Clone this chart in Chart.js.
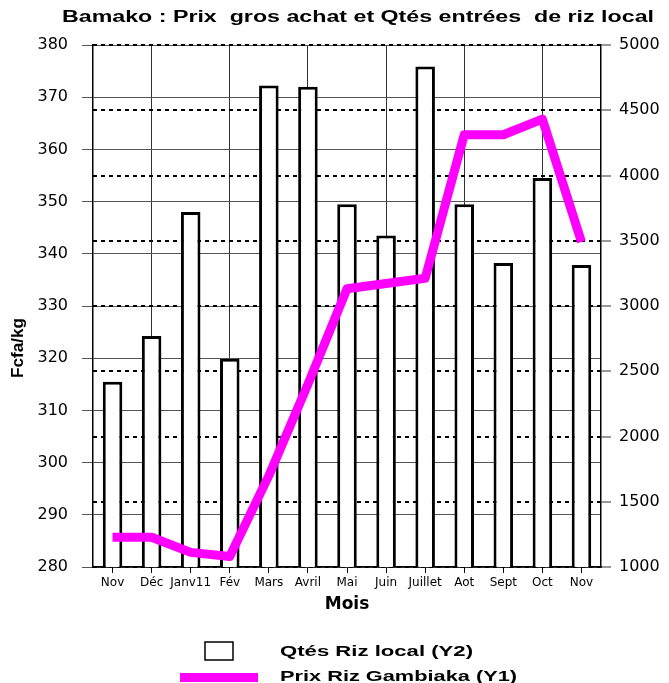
<!DOCTYPE html>
<html>
<head>
<meta charset="utf-8">
<title>Bamako : Prix gros achat et Qtés entrées de riz local</title>
<script src="https://cdn.jsdelivr.net/npm/chart.js@4"></script>
<style>
  html, body { margin: 0; padding: 0; background: #fff; }
  #chartBox { width: 669px; height: 683px; }
</style>
</head>
<body>
<div id="chartBox"><canvas id="myChart" width="669" height="683"></canvas></div>
<script>
// months on the x axis
const months = ['Nov', 'Déc', 'Janv11', 'Fév', 'Mars', 'Avril', 'Mai', 'Juin', 'Juillet', 'Aot', 'Sept', 'Oct', 'Nov'];
// quantities entered, riz local (right axis, Y2)
const qtesRizLocal = [2420, 2770, 3720, 2595, 4690, 4680, 3780, 3540, 4835, 3780, 3330, 3980, 3315];
// wholesale price Gambiaka, Fcfa/kg (left axis, Y1)
const prixGambiaka = [285.7, 285.7, 282.8, 282.0, 297.5, 315.0, 333.3, 334.3, 335.3, 362.8, 362.8, 365.8, 342.3];
// axis ranges
const prixAxis = { min: 280, max: 380, step: 10 };
const qtesAxis = { min: 1000, max: 5000, step: 500 };

const tickFont = { family: 'DejaVu Sans', size: 16 };

// draw a text squeezed/stretched to a given width (the original text is wide)
function wideText(ctx, text, x, y, width, font, align, rotate) {
  ctx.save();
  ctx.font = font;
  const w = ctx.measureText(text).width;
  ctx.translate(x, y);
  if (rotate) ctx.rotate(-Math.PI / 2);
  ctx.scale(width / w, 1);
  ctx.textBaseline = 'middle';
  ctx.textAlign = align;
  ctx.fillStyle = '#000';
  ctx.fillText(text, 0, 0);
  ctx.restore();
}

// title, y title and the legend at the bottom
const extraText = {
  id: 'extraText',
  afterDraw(chart) {
    const ctx = chart.ctx;
    wideText(ctx, 'Bamako : Prix  gros achat et Qtés entrées  de riz local', 358, 18, 592, 'bold 16px "Liberation Sans"', 'center');
    wideText(ctx, 'Fcfa/kg', 19, 348, 60, 'bold 16px "Liberation Sans"', 'center', true);

    ctx.save();
    ctx.lineWidth = 1.5;
    ctx.strokeStyle = '#000';
    ctx.fillStyle = '#fff';
    ctx.fillRect(205, 642, 28, 18);
    ctx.strokeRect(205, 642, 28, 18);
    ctx.fillStyle = '#ff00ff';
    ctx.fillRect(180, 673, 78, 9);
    ctx.restore();
    wideText(ctx, 'Qtés Riz local (Y2)', 280, 652, 193, 'bold 15px "Liberation Sans"', 'left');
    wideText(ctx, 'Prix Riz Gambiaka (Y1)', 280, 677, 237, 'bold 15px "Liberation Sans"', 'left');
  }
};

var ctx = document.getElementById('myChart').getContext('2d');
var myChart = new Chart(ctx, {
  type: 'bar',
  data: {
    labels: months,
    datasets: [
      {
        type: 'line',
        label: 'Prix Riz Gambiaka (Y1)',
        data: prixGambiaka,
        yAxisID: 'y',
        borderColor: '#ff00ff',
        borderWidth: 9,
        borderJoinStyle: 'round',
        pointRadius: 0,
        tension: 0,
        order: 1
      },
      {
        type: 'bar',
        label: 'Qtés Riz local (Y2)',
        data: qtesRizLocal,
        yAxisID: 'y2',
        backgroundColor: '#fff',
        borderColor: '#000',
        borderWidth: 3,
        borderSkipped: false,
        barPercentage: 0.5,
        categoryPercentage: 1,
        order: 2
      }
    ]
  },
  plugins: [extraText],
  options: {
    responsive: false,
    animation: false,
    layout: { padding: { top: 45, bottom: 68, left: 0, right: 0 } },
    plugins: {
      legend: { display: false },
      title: { display: false },
      tooltip: { enabled: false }
    },
    scales: {
      x: {
        offset: true,
        grid: {
          offset: false,
          color: function(c) { return c.index % 2 === 1 ? '#333' : 'rgba(0,0,0,0)'; },
          tickColor: '#000',
          tickLength: 6
        },
        border: { color: '#000', width: 1.5 },
        ticks: {
          color: '#000',
          font: { family: 'DejaVu Sans', size: 12 },
          autoSkip: false,
          maxRotation: 0,
          padding: 3
        },
        title: {
          display: true,
          text: 'Mois',
          color: '#000',
          font: { family: 'DejaVu Sans', size: 17, weight: 'bold' },
          padding: 0
        },
        afterFit: function(s) { s.height = 48; }
      },
      y: {
        position: 'left',
        min: prixAxis.min,
        max: prixAxis.max,
        ticks: { stepSize: prixAxis.step, color: '#000', font: tickFont, padding: 14 },
        grid: { color: '#555', tickColor: '#555', tickLength: 11 },
        border: { color: '#000', width: 1.5 },
        afterFit: function(s) { s.width = 93; }
      },
      y2: {
        position: 'right',
        min: qtesAxis.min,
        max: qtesAxis.max,
        ticks: {
          stepSize: qtesAxis.step,
          color: '#000',
          font: tickFont,
          padding: 8,
          callback: function(v) { return String(v); }
        },
        grid: {
          color: '#000',
          lineWidth: 2,
          tickColor: '#333',
          tickWidth: 1,
          tickBorderDash: [],
          tickLength: 10
        },
        border: { color: '#000', width: 1.5, dash: [4, 4] },
        afterFit: function(s) { s.width = 68; }
      }
    }
  }
});
</script>
</body>
</html>
